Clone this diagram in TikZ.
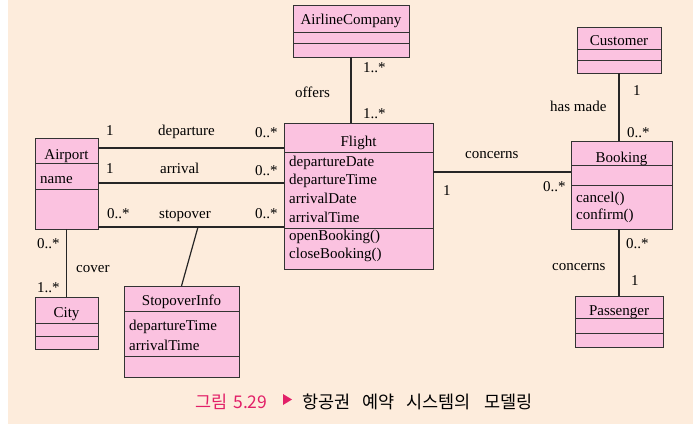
\documentclass[tikz,border=0pt]{standalone}
\usepackage{fontspec}
\setmainfont{Liberation Serif}
\newfontfamily\krfont{Noto Sans CJK KR}
\usetikzlibrary{positioning}
\definecolor{bgcream}{RGB}{253,236,220}
\definecolor{classpink}{RGB}{251,194,224}
\definecolor{captionred}{RGB}{226,32,104}

\begin{document}
\begin{tikzpicture}[x=1pt, y=-1pt,
    cls/.style={draw=black!80, fill=classpink, line width=0.9pt, inner sep=0pt, outer sep=0pt},
    sep/.style={draw=black!80, line width=0.9pt},
    assoc/.style={draw=black!85, line width=1.2pt},
    txt/.style={font=\fontsize{15}{15}\selectfont, inner sep=0pt, anchor=base west},
    ttl/.style={font=\fontsize{15}{15}\selectfont, inner sep=0pt, anchor=base},
    captxt/.style={font=\krfont\fontsize{17.5}{17.5}\selectfont, inner sep=0pt, anchor=base west}]
  \useasboundingbox (0,0) rectangle (693,428);
  \fill[white] (0,0) rectangle (693,428);
  \fill[bgcream] (8,0) rectangle (693,424);

  % classes
  \node[cls, minimum width=116, minimum height=52] (airline) at (351,31) {};
  \node[cls, minimum width=149, minimum height=146] (flight) at (358.5,196) {};
  \node[cls, minimum width=63, minimum height=91] (airport) at (66.5,183.5) {};
  \node[cls, minimum width=63, minimum height=52] (city) at (66.5,323) {};
  \node[cls, minimum width=115, minimum height=91] (stopinfo) at (181.5,331.5) {};
  \node[cls, minimum width=84, minimum height=46] (customer) at (619,50) {};
  \node[cls, minimum width=101, minimum height=88] (booking) at (621.5,185) {};
  \node[cls, minimum width=88, minimum height=51] (passenger) at (619,321.5) {};

  \foreach \c/\y in {airline/32, airline/43, flight/152, flight/228,
      airport/163, airport/189, city/323, city/336, stopinfo/311, stopinfo/356,
      customer/49, customer/60, booking/165, booking/185, passenger/318, passenger/333}
    \draw[sep] (\c.west |- 0,\y) -- (\c.east |- 0,\y);

  % class names
  \node[ttl] (airlinename) at (351,25) {AirlineCompany};
  \node[ttl] (flightname) at (358.5,146) {Flight};
  \node[ttl] (airportname) at (66.5,159) {Airport};
  \node[ttl] (cityname) at (66.5,317) {City};
  \node[ttl] (stopinfoname) at (181.5,305) {StopoverInfo};
  \node[ttl] (customername) at (619,46) {Customer};
  \node[ttl] (bookingname) at (621.5,162) {Booking};
  \node[ttl] (passengername) at (619,315) {Passenger};

  % attributes and operations
  \node[txt] (airportattr) at (40,183) {name};
  \node[txt] (depdate) at (289,166) {departureDate};
  \node[txt] (deptime) at (289,184) {departureTime};
  \node[txt] (arrdate) at (289,203) {arrivalDate};
  \node[txt] (arrtime) at (289,222) {arrivalTime};
  \node[txt] (openop) at (289,240) {openBooking()};
  \node[txt] (closeop) at (289,258) {closeBooking()};
  \node[txt] (stopdep) at (129,330) {departureTime};
  \node[txt] (stoparr) at (129,350) {arrivalTime};
  \node[txt] (cancelop) at (576,202) {cancel()};
  \node[txt] (confirmop) at (576,219) {confirm()};

  % associations
  \draw[assoc] (airline.south) -- (airline.south |- flight.north);
  \foreach \y in {148,183,227}
    \draw[assoc] (airport.east |- 0,\y) -- (flight.west |- 0,\y);
  \coordinate (stopmid) at (198,227);
  \draw[assoc] (stopmid) -- (stopinfo.north);
  \draw[assoc] (airport.south) -- (city.north);
  \draw[assoc] (flight.east |- 0,172) -- (booking.west |- 0,172);
  \draw[assoc] (customer.south) -- (customer.south |- booking.north);
  \draw[assoc] (passenger.north |- booking.south) -- (passenger.north);

  % association labels
  \node[txt] (offers) at (295,97) {offers};
  \node[txt] (offersa) at (363,73) {1..*};
  \node[txt] (offersb) at (363,118) {1..*};
  \node[txt] (depa) at (106,135) {1};
  \node[txt] (depname) at (158,135) {departure};
  \node[txt] (depb) at (255,137) {0..*};
  \node[txt] (arra) at (106,173) {1};
  \node[txt] (arrname) at (160,173) {arrival};
  \node[txt] (arrb) at (255,175) {0..*};
  \node[txt] (stopa) at (107,218) {0..*};
  \node[txt] (stopname) at (159,218) {stopover};
  \node[txt] (stopb) at (255,218) {0..*};
  \node[txt] (covera) at (37,248) {0..*};
  \node[txt] (covername) at (76,272) {cover};
  \node[txt] (coverb) at (37,292) {1..*};
  \node[txt] (madea) at (633,95) {1};
  \node[txt] (madename) at (550,111) {has made};
  \node[txt] (madeb) at (627,137) {0..*};
  \node[txt] (concname) at (465,158) {concerns};
  \node[txt] (conca) at (443,195) {1};
  \node[txt] (concb) at (543,191) {0..*};
  \node[txt] (paxa) at (626,248) {0..*};
  \node[txt] (paxname) at (552,270) {concerns};
  \node[txt] (paxb) at (631,285) {1};

  % caption
  \node[captxt, text=captionred] (capnum) at (195,408) {그림\hspace{6pt}5.29};
  \fill[captionred] (283,394) -- (292,399.5) -- (283,405) -- cycle;
  \node[captxt] (captext) at (302,408) {항공권\hspace{12pt}예약\hspace{12pt}시스템의\hspace{13pt}모델링};
\end{tikzpicture}
\end{document}
